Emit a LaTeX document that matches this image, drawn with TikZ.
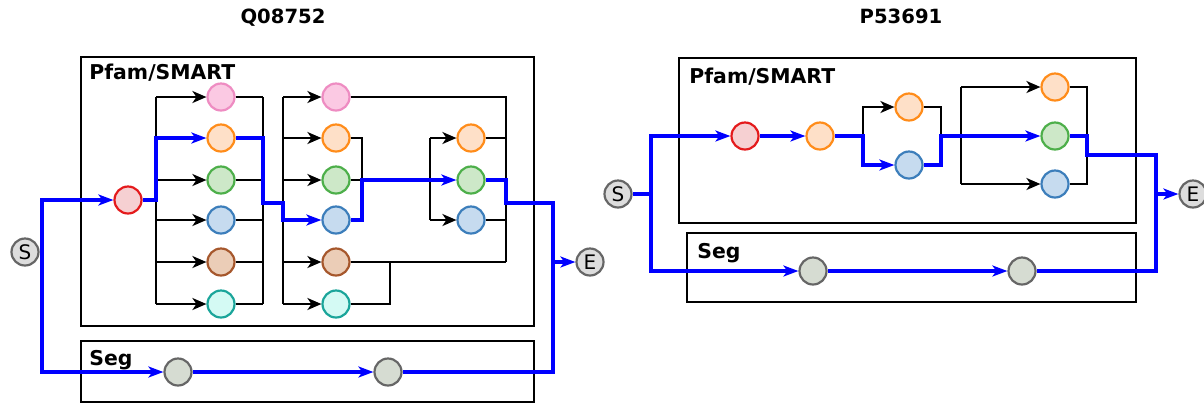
\documentclass[tikz,border=0pt]{standalone}
\usepackage{fontspec}
\setmainfont{DejaVu Sans}
\usetikzlibrary{arrows.meta}

\definecolor{pinkline}{HTML}{EE8CC2}
\definecolor{pinkfill}{HTML}{FBC9E3}
\definecolor{orngline}{HTML}{FF8C1A}
\definecolor{orngfill}{HTML}{FEE0C8}
\definecolor{grnline}{HTML}{4DAF4A}
\definecolor{grnfill}{HTML}{CDE8C8}
\definecolor{bluline}{HTML}{3C7EBB}
\definecolor{blufill}{HTML}{C6DBEF}
\definecolor{brnline}{HTML}{A6572C}
\definecolor{brnfill}{HTML}{EBCDB7}
\definecolor{cynline}{HTML}{1AA59A}
\definecolor{cynfill}{HTML}{D4FAF4}
\definecolor{redline}{HTML}{E41A1C}
\definecolor{redfill}{HTML}{F6D0D2}
\definecolor{segline}{HTML}{666666}
\definecolor{segfill}{HTML}{D6DCD2}
\definecolor{termfill}{HTML}{DDDDDD}

\tikzset{
  dom/.style={circle, draw, line width=1.1pt, minimum size=13.5pt, inner sep=0pt},
  pinkdom/.style={dom, draw=pinkline, fill=pinkfill},
  orngdom/.style={dom, draw=orngline, fill=orngfill},
  grndom/.style={dom, draw=grnline, fill=grnfill},
  bludom/.style={dom, draw=bluline, fill=blufill},
  brndom/.style={dom, draw=brnline, fill=brnfill},
  cyndom/.style={dom, draw=cynline, fill=cynfill},
  reddom/.style={dom, draw=redline, fill=redfill},
  segdom/.style={dom, draw=segline, fill=segfill},
  term/.style={dom, draw=segline, fill=termfill, font=\fontsize{10}{10}\selectfont},
  wire/.style={line width=1pt},
  link/.style={wire, -{Stealth[length=7pt,width=6pt,inset=2pt]}},
  route/.style={blue, line width=2.2pt},
  hop/.style={route, -{Stealth[length=7.5pt,width=5.5pt,inset=2pt]}},
  panel/.style={draw, line width=1.1pt},
  boxlabel/.style={anchor=base west, inner sep=0pt, font=\bfseries\fontsize{10.2}{10}\selectfont},
  title/.style={anchor=base, inner sep=0pt, font=\bfseries\fontsize{9.8}{10}\selectfont}
}

\begin{document}
\begin{tikzpicture}[x=0.5pt, y=-0.5pt]
  \useasboundingbox (0,0) rectangle (1204,404);

  % ---- Q08752 ----
  \node[title] (qtitle) at (283,23) {Q08752};
  \draw[panel] (81,57) rectangle (534,326);
  \node[boxlabel] (qpfam) at (89,79) {Pfam/SMART};
  \draw[panel] (81,341) rectangle (534,402);
  \node[boxlabel] (qsegl) at (89,365) {Seg};

  \node[term] (qS) at (25,252) {S};
  \node[term] (qE) at (590,262) {E};
  \node[reddom] (qred) at (128,200) {};
  % first column
  \node[pinkdom] (q1a) at (221,97) {};
  \node[orngdom] (q1b) at (221,138) {};
  \node[grndom] (q1c) at (221,180) {};
  \node[bludom] (q1d) at (221,220) {};
  \node[brndom] (q1e) at (221,262) {};
  \node[cyndom] (q1f) at (221,304) {};
  % second column
  \node[pinkdom] (q2a) at (336,97) {};
  \node[orngdom] (q2b) at (336,138) {};
  \node[grndom] (q2c) at (336,180) {};
  \node[bludom] (q2d) at (336,220) {};
  \node[brndom] (q2e) at (336,262) {};
  \node[cyndom] (q2f) at (336,304) {};
  % third column
  \node[orngdom] (q3a) at (471,138) {};
  \node[grndom] (q3b) at (471,180) {};
  \node[bludom] (q3c) at (471,220) {};
  % seg
  \node[segdom] (qseg1) at (178,372) {};
  \node[segdom] (qseg2) at (388,372) {};

  \coordinate (qsplit) at (42,252);
  \coordinate (q1in) at (156,200);
  \coordinate (q1out) at (263,203);
  \coordinate (q2in) at (283,203);
  \coordinate (q2out) at (362,180);
  \coordinate (q2low) at (390,262);
  \coordinate (q3in) at (430,180);
  \coordinate (q3out) at (506,203);
  \coordinate (qjoin) at (553,262);

  % branches
  \draw[wire] (q1in |- q1a) -- (q1in |- q1f);
  \foreach \n in {a,c,d,e,f}
    \draw[link] (q1in |- q1\n) -- (q1\n);
  \draw[wire] (q1out |- q1a) -- (q1out |- q1f);
  \foreach \n in {a,c,d,e,f}
    \draw[wire] (q1\n) -- (q1out |- q1\n);
  \draw[wire] (q2in |- q2a) -- (q2in |- q2f);
  \foreach \n in {a,b,c,e,f}
    \draw[link] (q2in |- q2\n) -- (q2\n);
  \draw[wire] (q2a) -- (q3out |- q2a) -- (q3out |- q2e);
  \draw[wire] (q2e) -- (q3out |- q2e);
  \draw[wire] (q2f) -| (q2low);
  \draw[wire] (q2b) -| (q2out |- q2d) -- (q2d);
  \draw[wire] (q2c) -- (q2out);
  \draw[wire] (q3in |- q3a) -- (q3in |- q3c);
  \draw[link] (q3in |- q3a) -- (q3a);
  \draw[link] (q3in |- q3c) -- (q3c);
  \draw[wire] (q3a) -- (q3out |- q3a);
  \draw[wire] (q3c) -- (q3out |- q3c);

  % best path
  \draw[hop] (qS) -- (qsplit) |- (qred);
  \draw[hop] (qred) -- (q1in) |- (q1b);
  \draw[hop] (q1b) -| (q1out) -- (q2in) |- (q2d);
  \draw[hop] (q2d) -| (q2out) -- (q3b);
  \draw[route] (q3b) -| (q3out) -| (qjoin);
  \draw[hop] (qjoin) -- (qE);
  \draw[hop] (qsplit) |- (qseg1);
  \draw[hop] (qseg1) -- (qseg2);
  \draw[route] (qseg2) -| (qjoin);

  % ---- P53691 ----
  \node[title] (ptitle) at (901,23) {P53691};
  \draw[panel] (679,58) rectangle (1136,223);
  \node[boxlabel] (ppfam) at (689,83) {Pfam/SMART};
  \draw[panel] (687,233) rectangle (1136,302);
  \node[boxlabel] (psegl) at (697,258) {Seg};

  \node[term] (pS) at (618,194) {S};
  \node[term] (pE) at (1193,194) {E};
  \node[reddom] (pred) at (745,136) {};
  \node[orngdom] (porg) at (820,136) {};
  \node[orngdom] (p1a) at (909,107) {};
  \node[bludom] (p1b) at (909,165) {};
  \node[orngdom] (p2a) at (1055,87) {};
  \node[grndom] (p2b) at (1055,136) {};
  \node[bludom] (p2c) at (1055,184) {};
  \node[segdom] (pseg1) at (813,271) {};
  \node[segdom] (pseg2) at (1022,271) {};

  \coordinate (psplit) at (651,194);
  \coordinate (p1in) at (863,136);
  \coordinate (p1out) at (941,136);
  \coordinate (p2in) at (961,136);
  \coordinate (p2out) at (1087,155);
  \coordinate (pjoin) at (1156,194);

  % branches
  \draw[link] (p1in) |- (p1a);
  \draw[wire] (p1a) -| (p1out);
  \draw[wire] (p2in |- p2a) -- (p2in |- p2c);
  \draw[link] (p2in |- p2a) -- (p2a);
  \draw[link] (p2in |- p2c) -- (p2c);
  \draw[wire] (p2a) -| (p2out |- p2c) -- (p2c);

  % best path
  \draw[hop] (pS) -- (psplit) |- (pred);
  \draw[hop] (pred) -- (porg);
  \draw[hop] (porg) -- (p1in) |- (p1b);
  \draw[hop] (p1b) -| (p1out) -- (p2b);
  \draw[route] (p2b) -| (p2out) -| (pjoin);
  \draw[hop] (pjoin) -- (pE);
  \draw[hop] (psplit) |- (pseg1);
  \draw[hop] (pseg1) -- (pseg2);
  \draw[route] (pseg2) -| (pjoin);
\end{tikzpicture}
\end{document}
